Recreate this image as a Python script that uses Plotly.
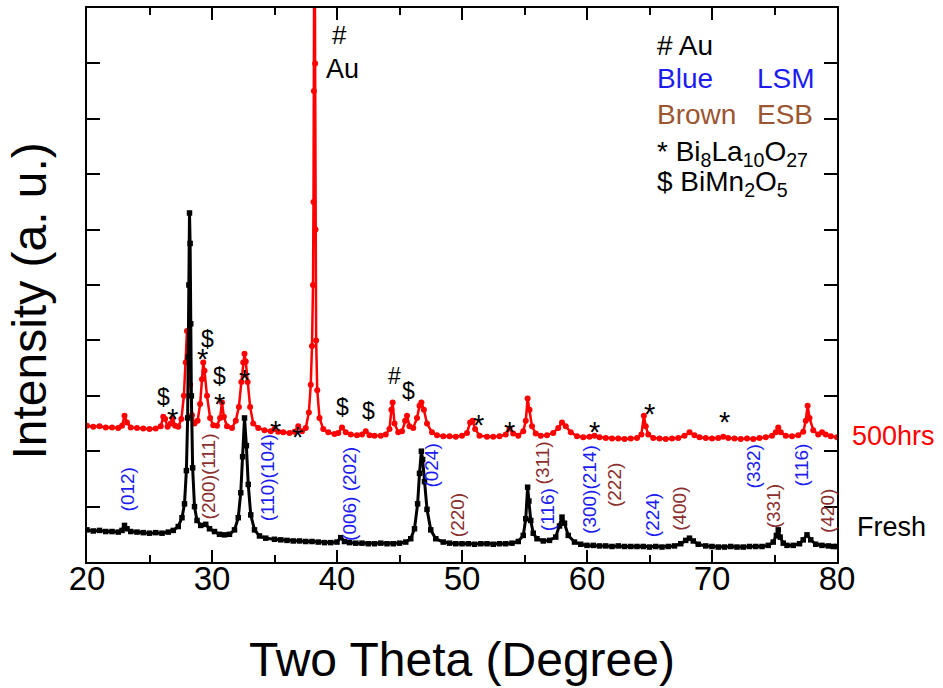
import plotly.graph_objects as go

# ---------------- data (2theta in degrees, intensity in arbitrary units) ----------------
fresh_x = [20.0, 20.5, 21.0, 21.5, 22.0, 22.5, 22.8, 23.0, 23.2, 23.5, 24.0, 24.5, 25.0, 25.5, 26.0, 26.5,
           26.9, 27.3, 27.6, 27.8, 27.95, 28.05, 28.1, 28.15, 28.2, 28.25, 28.3, 28.35, 28.45, 28.6, 28.8,
           29.1, 29.5, 29.8, 30.2, 30.6, 31.0, 31.4, 31.8, 32.1, 32.3, 32.45, 32.6, 32.75, 32.9, 33.1, 33.4,
           33.8, 34.3, 35.0, 35.5, 36.0, 36.5, 37.0, 37.5, 38.0, 38.5, 39.0, 39.5, 40.0, 40.3, 40.6, 41.0,
           41.5, 42.0, 42.5, 43.0, 43.5, 44.0, 44.5, 45.0, 45.5, 45.9, 46.2, 46.45, 46.6, 46.75, 46.85, 47.0,
           47.2, 47.5, 47.9, 48.5, 49.0, 49.5, 50.0, 50.5, 51.0, 51.5, 52.0, 52.5, 53.0, 53.5, 54.0, 54.5,
           54.9, 55.1, 55.25, 55.35, 55.5, 55.7, 56.0, 56.5, 57.0, 57.5, 57.8, 58.0, 58.2, 58.5, 59.0, 59.5,
           60.0, 60.5, 61.0, 61.5, 62.0, 62.5, 63.0, 63.5, 64.0, 64.5, 65.0, 65.5, 66.0, 66.5, 67.0, 67.5,
           67.9, 68.2, 68.5, 68.9, 69.5, 70.0, 70.5, 71.0, 71.5, 72.0, 72.5, 73.0, 73.5, 74.0, 74.5, 74.9,
           75.15, 75.3, 75.45, 75.7, 76.0, 76.5, 77.0, 77.3, 77.6, 77.9, 78.3, 78.8, 79.3, 79.7, 80.0]
fresh_y = [0.58, 0.56, 0.57, 0.55, 0.55, 0.54, 0.57, 0.66, 0.60, 0.55, 0.54, 0.53, 0.52, 0.53, 0.52, 0.54,
           0.57, 0.64, 0.80, 1.05, 1.65, 2.60, 3.70, 5.00, 6.30, 5.75, 4.30, 3.00, 1.70, 1.00, 0.75,
           0.66, 0.68, 0.60, 0.55, 0.50, 0.49, 0.50, 0.58, 0.80, 1.25, 1.90, 2.60, 2.10, 1.40, 0.85, 0.58,
           0.47, 0.43, 0.41, 0.40, 0.39, 0.38, 0.38, 0.37, 0.37, 0.36, 0.35, 0.35, 0.36, 0.44, 0.37, 0.35,
           0.34, 0.34, 0.33, 0.33, 0.34, 0.33, 0.33, 0.34, 0.36, 0.42, 0.60, 1.05, 1.60, 2.00, 1.85, 1.45,
           0.95, 0.58, 0.42, 0.36, 0.34, 0.33, 0.33, 0.33, 0.32, 0.33, 0.33, 0.32, 0.33, 0.33, 0.34, 0.37,
           0.48, 0.78, 1.35, 1.10, 0.75, 0.52, 0.42, 0.38, 0.39, 0.45, 0.65, 0.81, 0.70, 0.48, 0.36, 0.32,
           0.30, 0.30, 0.29, 0.29, 0.28, 0.29, 0.28, 0.28, 0.28, 0.28, 0.27, 0.28, 0.27, 0.28, 0.29, 0.33,
           0.39, 0.43, 0.38, 0.32, 0.29, 0.28, 0.27, 0.27, 0.28, 0.27, 0.27, 0.28, 0.28, 0.28, 0.30, 0.36,
           0.48, 0.58, 0.45, 0.34, 0.30, 0.30, 0.33, 0.40, 0.49, 0.40, 0.32, 0.30, 0.29, 0.28, 0.28]

aged_x = [20.0, 20.5, 21.0, 21.5, 22.0, 22.5, 22.8, 23.0, 23.2, 23.5, 24.0, 24.5, 25.0, 25.5, 25.9, 26.1,
          26.25, 26.45, 26.7, 26.85, 27.05, 27.3, 27.55, 27.75, 27.9, 28.0, 28.1, 28.25, 28.4, 28.6, 28.85,
          29.05, 29.2, 29.3, 29.4, 29.6, 29.85, 30.1, 30.4, 30.65, 30.8, 30.95, 31.2, 31.6, 31.9, 32.15,
          32.35, 32.5, 32.6, 32.7, 32.85, 33.05, 33.3, 33.7, 34.2, 34.7, 35.0, 35.3, 35.7, 36.2, 36.6, 36.9,
          37.2, 37.5, 37.75, 37.9, 38.0, 38.08, 38.12, 38.15, 38.18, 38.2, 38.22, 38.25, 38.28, 38.33,
          38.42, 38.6, 38.9, 39.3, 39.8, 40.1, 40.4, 40.7, 41.1, 41.6, 42.0, 42.3, 42.6, 43.0, 43.5, 43.9,
          44.2, 44.35, 44.45, 44.6, 44.9, 45.2, 45.45, 45.6, 45.8, 46.1, 46.4, 46.6, 46.75, 46.95, 47.2,
          47.6, 48.0, 48.5, 49.0, 49.5, 50.0, 50.4, 50.65, 50.85, 51.05, 51.4, 52.0, 52.5, 53.0, 53.5, 53.8,
          54.1, 54.5, 54.9, 55.1, 55.25, 55.4, 55.6, 55.9, 56.3, 56.8, 57.3, 57.7, 58.0, 58.3, 58.7, 59.2,
          59.7, 60.2, 60.6, 61.0, 61.5, 62.0, 62.5, 63.0, 63.5, 64.0, 64.35, 64.55, 64.7, 64.9, 65.3, 65.8,
          66.3, 66.8, 67.3, 67.8, 68.2, 68.6, 69.0, 69.5, 70.0, 70.5, 70.9, 71.3, 71.8, 72.3, 72.8, 73.3,
          73.8, 74.3, 74.8, 75.1, 75.3, 75.5, 75.9, 76.4, 76.9, 77.3, 77.5, 77.65, 77.8, 78.1, 78.5, 78.8,
          79.1, 79.5, 80.0]
aged_y = [2.46, 2.44, 2.45, 2.43, 2.43, 2.42, 2.46, 2.64, 2.52, 2.43, 2.42, 2.41, 2.40, 2.41, 2.45, 2.62,
          2.58, 2.44, 2.50, 2.60, 2.46, 2.44, 2.58, 3.00, 3.60, 4.17, 3.90, 3.20, 2.65, 2.50, 2.55,
          2.85, 3.30, 3.60, 3.45, 3.00, 2.60, 2.47, 2.46, 2.60, 2.88, 2.62, 2.45, 2.42, 2.55, 2.80,
          3.25, 3.60, 3.76, 3.62, 3.25, 2.80, 2.50, 2.42, 2.38, 2.36, 2.40, 2.35, 2.34, 2.33, 2.35, 2.45,
          2.36, 2.42, 2.70, 3.20, 3.90, 5.00, 6.50, 8.50, 10.5, 13.0, 11.5, 9.00, 6.00, 4.00,
          3.10, 2.60, 2.40, 2.34, 2.31, 2.33, 2.43, 2.34, 2.30, 2.29, 2.30, 2.36, 2.29, 2.28, 2.28, 2.30,
          2.40, 2.75, 2.88, 2.50, 2.34, 2.36, 2.55, 2.64, 2.45, 2.42, 2.60, 2.82, 2.88, 2.75, 2.50,
          2.34, 2.29, 2.27, 2.27, 2.26, 2.28, 2.33, 2.52, 2.55, 2.40, 2.28, 2.26, 2.26, 2.27, 2.30, 2.41,
          2.32, 2.28, 2.36, 2.55, 2.95, 2.75, 2.45, 2.32, 2.28, 2.29, 2.33, 2.42, 2.52, 2.45, 2.34, 2.27,
          2.25, 2.26, 2.28, 2.25, 2.24, 2.23, 2.23, 2.22, 2.23, 2.24, 2.30, 2.64, 2.45, 2.30, 2.24, 2.23,
          2.22, 2.23, 2.24, 2.28, 2.34, 2.29, 2.25, 2.24, 2.23, 2.24, 2.26, 2.24, 2.23, 2.22, 2.23, 2.22,
          2.24, 2.25, 2.28, 2.34, 2.43, 2.34, 2.28, 2.27, 2.29, 2.35, 2.55, 2.82, 2.60, 2.38, 2.30, 2.34,
          2.30, 2.27, 2.25]

# peak (hkl) labels: text, 2theta, vertical centre (intensity units), phase
hkl_text = ["(012)", "(200)(111)", "(110)(104)", "(006) (202)", "(024)", "(220)", "(311)", "(116)",
            "(300)(214)", "(222)", "(224)", "(400)", "(332)", "(331)", "(116)", "(420)"]
hkl_x = [23.2, 29.7, 34.4, 41.0, 47.6, 49.7, 56.4, 56.9, 60.2, 62.2, 65.3, 67.4, 73.3, 74.9, 77.2, 79.2]
hkl_y = [1.31, 1.55, 1.51, 1.22, 1.74, 0.85, 1.78, 0.94, 1.31, 1.38, 0.85, 0.95, 1.73, 1.01, 1.74, 0.92]
hkl_phase = ["LSM", "ESB", "LSM", "LSM", "LSM", "ESB", "ESB", "LSM", "LSM", "ESB", "LSM", "ESB", "LSM",
             "ESB", "LSM", "ESB"]

# impurity markers on the 500 h pattern
mark_text = ["$", "*", "*", "$", "$", "*", "*", "*", "*", "$", "$", "#", "$", "*", "*", "*", "*", "*"]
mark_x = [26.1, 26.8, 29.2, 29.6, 30.6, 30.6, 32.6, 35.1, 36.8, 40.4, 42.5, 44.6, 45.7, 51.3, 53.8,
          60.6, 65.0, 71.0]
mark_y = [2.97, 2.79, 3.87, 4.03, 3.36, 3.06, 3.49, 2.57, 2.46, 2.79, 2.73, 3.36, 3.09, 2.68, 2.55,
          2.54, 2.88, 2.72]

x_ticks = [20, 30, 40, 50, 60, 70, 80]

BLUE = "#1c1cf0"
BROWN_LBL = "#8a2e2e"
BROWN_KEY = "#9b5530"
FONT = "Arial, Liberation Sans, sans-serif"

fig = go.Figure()
fig.add_trace(go.Scatter(x=aged_x, y=aged_y, mode="lines+markers", name="500hrs",
                         line=dict(color="#ff0000", width=2.5),
                         marker=dict(color="#ff0000", size=6, symbol="circle")))
fig.add_trace(go.Scatter(x=fresh_x, y=fresh_y, mode="lines+markers", name="Fresh",
                         line=dict(color="#000000", width=3),
                         marker=dict(color="#000000", size=5.5, symbol="square")))

ann = []
for t, x, y, p in zip(hkl_text, hkl_x, hkl_y, hkl_phase):
    ann.append(dict(x=x, y=y, xref="x", yref="y", text=t, showarrow=False, textangle=-90,
                    xanchor="center", yanchor="middle",
                    font=dict(family=FONT, size=19, color=BLUE if p == "LSM" else BROWN_LBL)))
for t, x, y in zip(mark_text, mark_x, mark_y):
    yy = y - 0.2 if t == "*" else y
    ann.append(dict(x=x, y=yy, xref="x", yref="y", text=t, showarrow=False,
                    xanchor="center", yanchor="middle",
                    font=dict(family=FONT, size=29 if t == "*" else 23, color="black")))

# Au label at top
ann.append(dict(x=40.2, y=9.51, xref="x", yref="y", text="#", showarrow=False,
                xanchor="center", yanchor="middle", font=dict(family=FONT, size=26, color="black")))
ann.append(dict(x=40.4, y=8.90, xref="x", yref="y", text="Au", showarrow=False,
                xanchor="center", yanchor="middle", font=dict(family=FONT, size=27, color="black")))

# key text (top right)
key = [("# Au", 65.4, 9.33, "black"), ("Blue", 65.4, 8.72, BLUE), ("LSM", 73.4, 8.72, BLUE),
       ("Brown", 65.4, 8.08, BROWN_KEY), ("ESB", 73.4, 8.08, BROWN_KEY),
       ("* Bi<sub>8</sub>La<sub>10</sub>O<sub>27</sub>", 65.4, 7.37, "black"),
       ("$ BiMn<sub>2</sub>O<sub>5</sub>", 65.4, 6.83, "black")]
for t, x, y, c in key:
    ann.append(dict(x=x, y=y, xref="x", yref="y", text=t, showarrow=False, xanchor="left",
                    yanchor="middle", font=dict(family=FONT, size=28, color=c)))

# series names to the right
ann.append(dict(x=1.017, y=2.28, xref="paper", yref="y", text="500hrs", showarrow=False,
                xanchor="left", yanchor="middle", font=dict(family=FONT, size=27, color="#ff0000")))
ann.append(dict(x=1.024, y=0.63, xref="paper", yref="y", text="Fresh", showarrow=False,
                xanchor="left", yanchor="middle", font=dict(family=FONT, size=27, color="black")))

# axis titles
ann.append(dict(x=50, y=-0.176, xref="x", yref="paper", text="Two Theta (Degree)", showarrow=False,
                xanchor="center", yanchor="middle", font=dict(family=FONT, size=48, color="black")))
ann.append(dict(x=-0.076, y=0.47, xref="paper", yref="paper", text="Intensity (a. u.)", showarrow=False,
                xanchor="center", yanchor="middle", textangle=-90,
                font=dict(family=FONT, size=48, color="black")))

fig.update_layout(
    width=943, height=688,
    margin=dict(l=87, r=106, t=6, b=126),
    paper_bgcolor="white", plot_bgcolor="white",
    showlegend=False,
    annotations=ann,
    font=dict(family=FONT, color="black"),
)
fig.update_xaxes(range=[20, 80], tickvals=x_ticks, ticktext=[str(v) for v in x_ticks],
                 ticks="inside", ticklen=12, tickwidth=1.5, tickcolor="black",
                 minor=dict(dtick=5, tick0=20, ticks="inside", ticklen=7, tickwidth=1.5, tickcolor="black"),
                 showline=True, linewidth=2, linecolor="black", mirror="allticks",
                 showgrid=False, zeroline=False, ticklabelstandoff=-14,
                 tickfont=dict(family=FONT, size=33, color="black"))
fig.update_yaxes(range=[0, 10], dtick=1, tick0=0, showticklabels=False,
                 ticks="inside", ticklen=13, tickwidth=1.5, tickcolor="black",
                 showline=True, linewidth=2, linecolor="black", mirror="allticks",
                 showgrid=False, zeroline=False)

fig.write_html("out.html")
